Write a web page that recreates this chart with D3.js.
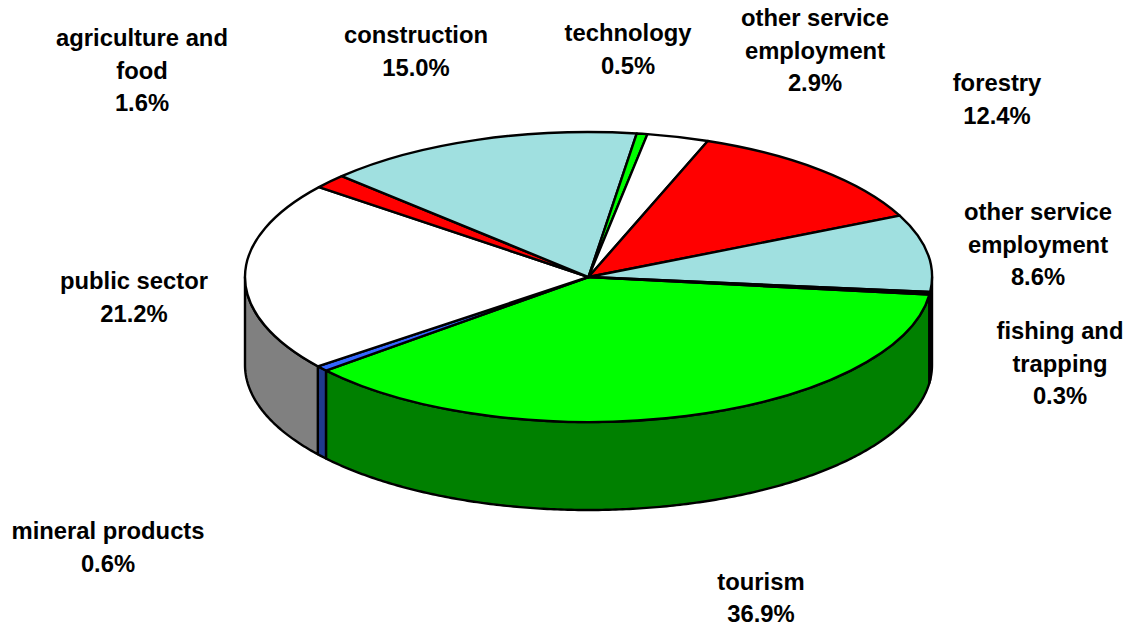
<!DOCTYPE html>
<html lang="en">
<head>
<meta charset="utf-8">
<title>Employment by sector</title>
<script src="https://d3js.org/d3.v7.min.js"></script>
<style>
  html, body { margin: 0; padding: 0; background: #fff; }
  svg { display: block; }
  .label text { font: bold 23.8px "Liberation Sans", Arial, sans-serif; fill: #000; text-anchor: middle; }
  path { stroke: #000; stroke-width: 2.4px; stroke-linejoin: round; vector-effect: non-scaling-stroke; }
</style>
</head>
<body>
<div id="chart"></div>
<script>
// clockwise from the tourism slice
var sectors = ['tourism', 'mineral products', 'public sector', 'agriculture and food', 'construction',
  'technology', 'other service employment', 'forestry', 'other service employment', 'fishing and trapping'];
var shares = [36.9, 0.6, 21.2, 1.6, 15.0, 0.5, 2.9, 12.4, 8.6, 0.3];
var topColors = ['#00ff00', '#3366ff', '#ffffff', '#ff0000', '#a0e0e0', '#00ff00', '#ffffff', '#ff0000', '#a0e0e0', '#000000'];
var sideColors = ['#008000', '#1f3a8f', '#808080', '#800000', '#507070', '#008000', '#808080', '#800000', '#507070', '#000000'];

// label layout: wrapped lines and the centre of the first line
var labelLines = [['tourism'], ['mineral products'], ['public sector'], ['agriculture and', 'food'], ['construction'],
  ['technology'], ['other service', 'employment'], ['forestry'], ['other service', 'employment'], ['fishing and', 'trapping']];
var labelX = [761, 108, 134, 142, 416, 628, 815, 997, 1038, 1060];
var labelY = [581.5, 531, 281, 38, 35, 33, 18, 83, 212, 331];

var width = 1127, height = 626;
var cx = 588.5, cy = 277, rx = 343.5, ry = 145, depth = 88;
var lineGap = 32.5;
var startDeg = 97;
var rad = Math.PI / 180;

var svg = d3.select('#chart').append('svg')
  .attr('width', width)
  .attr('height', height);

var pie = d3.pie().sort(null)
  .startAngle(startDeg * rad)
  .endAngle((startDeg + 360) * rad);
var slices = pie(shares);

// side wall, only the part of a slice that faces the viewer
var wall = d3.area()
  .x(function(a) { return cx + rx * Math.sin(a); })
  .y0(function(a) { return cy - ry * Math.cos(a); })
  .y1(function(a) { return cy - ry * Math.cos(a) + depth; });

function frontPart(s) {
  var a0 = s.startAngle, a1 = s.endAngle;
  // pie runs past a full turn, so bring it back to 0..2pi first
  if (a0 >= 2 * Math.PI) { a0 -= 2 * Math.PI; a1 -= 2 * Math.PI; }
  var from = Math.max(a0, Math.PI / 2), to = Math.min(a1, 3 * Math.PI / 2);
  if (to <= from) return null;
  var n = Math.max(2, Math.ceil((to - from) / 0.01));
  return d3.range(n + 1).map(function(i) { return from + (to - from) * i / n; });
}

svg.append('g').selectAll('path')
  .data(slices.filter(function(s) { return frontPart(s); }))
  .enter().append('path')
    .attr('d', function(s) { return wall(frontPart(s)); })
    .attr('fill', function(s) { return sideColors[s.index]; });

// top face, a circle squashed into an ellipse
var arc = d3.arc().innerRadius(0).outerRadius(rx);
svg.append('g')
    .attr('transform', 'translate(' + cx + ',' + cy + ') scale(1,' + (ry / rx) + ')')
  .selectAll('path')
  .data(slices)
  .enter().append('path')
    .attr('d', arc)
    .attr('fill', function(s) { return topColors[s.index]; });

var labels = svg.append('g').attr('class', 'label').selectAll('text')
  .data(sectors)
  .enter().append('text')
    .attr('x', function(d, i) { return labelX[i]; })
    .attr('y', function(d, i) { return labelY[i]; })
    .attr('dy', '0.35em');

labels.each(function(d, i) {
  var t = d3.select(this);
  labelLines[i].concat(shares[i].toFixed(1) + '%').forEach(function(line, k) {
    t.append('tspan')
      .attr('x', labelX[i])
      .attr('y', labelY[i] + k * lineGap)
      .attr('dy', '0.35em')
      .text(line);
  });
});
</script>
</body>
</html>
